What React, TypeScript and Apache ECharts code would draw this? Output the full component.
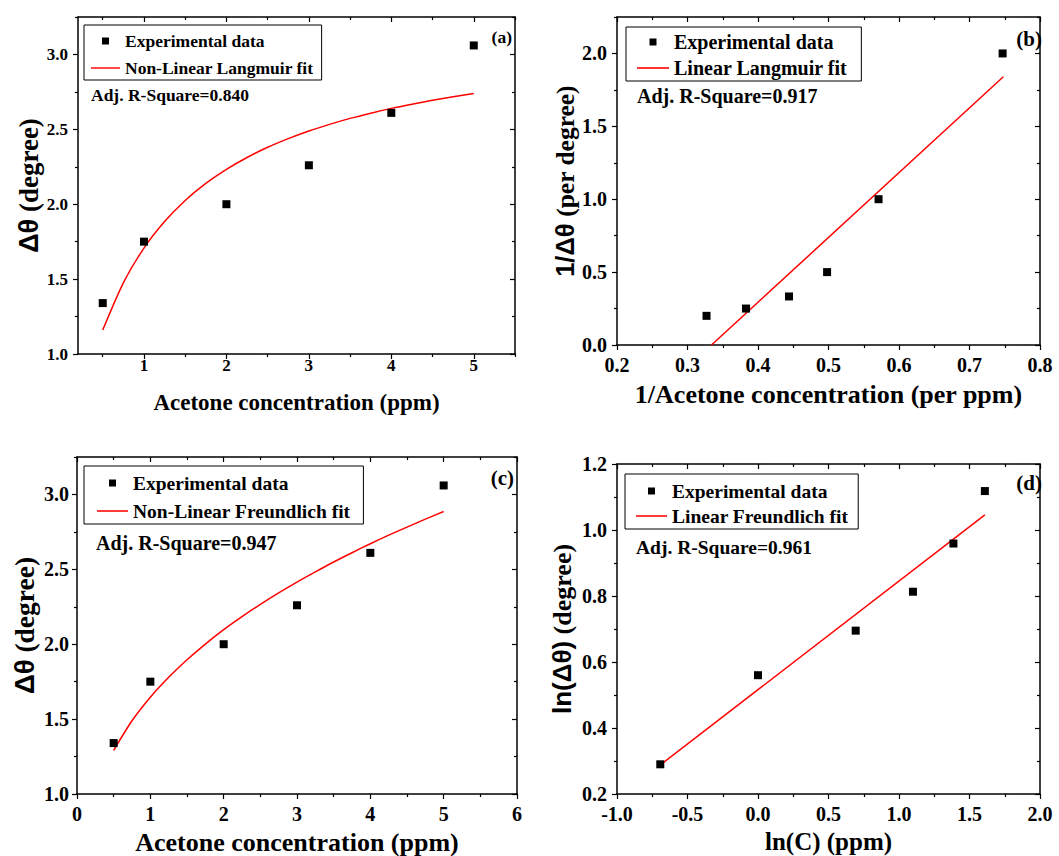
import React, { useEffect, useRef } from 'react';
import * as echarts from 'echarts';

// ---------- data ----------
const concentration = [0.5, 1, 2, 3, 4, 5];
const deltaTheta = [1.34, 1.75, 2.0, 2.26, 2.61, 3.06];

const fitX = [0.5, 0.75, 1, 1.25, 1.5, 1.75, 2, 2.25, 2.5, 2.75, 3, 3.25, 3.5, 3.75, 4, 4.25, 4.5, 4.75, 5];
const langmuirFitY = [1.16, 1.475, 1.707, 1.884, 2.025, 2.139, 2.233, 2.312, 2.38, 2.438, 2.489, 2.533, 2.573, 2.608, 2.64, 2.668, 2.694, 2.718, 2.74];
const freundlichFitY = [1.292, 1.489, 1.646, 1.779, 1.896, 2.001, 2.097, 2.184, 2.266, 2.343, 2.415, 2.483, 2.549, 2.611, 2.671, 2.728, 2.782, 2.835, 2.886];

const invX = [0.327, 0.383, 0.444, 0.498, 0.571, 0.747];
const invY = [0.2, 0.25, 0.333, 0.5, 1.0, 2.0];
const linLangmuirX = [0.334, 0.748];
const linLangmuirY = [0.0, 1.84];

const lnC = [-0.693, 0.0, 0.693, 1.099, 1.386, 1.609];
const lnTheta = [0.29, 0.56, 0.695, 0.813, 0.959, 1.118];
const linFreundlichX = [-0.693, 1.609];
const linFreundlichY = [0.288, 1.046];

// tick values
const concMajor = [1, 2, 3, 4, 5];
const concMinorA = [0.5, 1.5, 2.5, 3.5, 4.5, 5.5];
const concMajorC = [0, 1, 2, 3, 4, 5, 6];
const concMinorC = [0.5, 1.5, 2.5, 3.5, 4.5, 5.5];
const thetaMajor = [1.0, 1.5, 2.0, 2.5, 3.0];
const thetaMinor = [1.25, 1.75, 2.25, 2.75, 3.25];
const invXMajor = [0.2, 0.3, 0.4, 0.5, 0.6, 0.7, 0.8];
const invXMinor = [0.25, 0.35, 0.45, 0.55, 0.65, 0.75];
const invYMajor = [0.0, 0.5, 1.0, 1.5, 2.0];
const invYMinor = [0.25, 0.75, 1.25, 1.75, 2.25];
const lnCMajor = [-1.0, -0.5, 0.0, 0.5, 1.0, 1.5, 2.0];
const lnCMinor = [-0.75, -0.25, 0.25, 0.75, 1.25, 1.75];
const lnThetaMajor = [0.2, 0.4, 0.6, 0.8, 1.0, 1.2];
const lnThetaMinor = [0.3, 0.5, 0.7, 0.9, 1.1];

const legendPoints = 'Experimental data';
const fitNames = ['Non-Linear Langmuir fit', 'Linear Langmuir fit', 'Non-Linear Freundlich fit', 'Linear Freundlich fit'];
const rSquares = ['Adj. R-Square=0.840', 'Adj. R-Square=0.917', 'Adj. R-Square=0.947', 'Adj. R-Square=0.961'];
const panelTags = ['(a)', '(b)', '(c)', '(d)'];

const SERIF = "'Liberation Serif', 'Times New Roman', serif";
const SANS = "'Liberation Sans', Arial, sans-serif";

const SQUARE_ICON = 'path://M0,0H10V10H0Z';
const LINE_ICON = 'path://M0,0H40V2H0Z';

const fmt1 = (v: number) => v.toFixed(1);
const fmt0 = (v: number) => String(Math.round(v));

function nameStyle(size: number) {
  return {
    fontFamily: SERIF,
    fontWeight: 'bold',
    fontSize: size,
    color: '#000',
    rich: {
      s: { fontFamily: SANS, fontWeight: 'bold', fontSize: size, color: '#000' },
      t: { fontFamily: SERIF, fontWeight: 'bold', fontSize: size, color: '#000' },
    },
  };
}

function makeAxes(dim: 'x' | 'y', grid: number, p: any) {
  const pos = dim === 'x' ? ['bottom', 'top'] : ['left', 'right'];
  const base = { type: 'value', gridIndex: grid, min: p.min, max: p.max, splitLine: { show: false } };
  const line = { color: '#000', width: 1.5 };
  const tickLine = { color: '#000', width: 1.2 };
  return [
    {
      ...base,
      position: pos[0],
      axisLine: { show: true, onZero: false, lineStyle: line },
      axisTick: { show: true, customValues: p.major, length: 5, inside: false, lineStyle: tickLine },
      axisLabel: {
        show: true,
        customValues: p.major,
        formatter: p.fmt,
        margin: p.margin,
        color: '#000',
        fontFamily: SERIF,
        fontWeight: 'bold',
        fontSize: p.fontSize,
      },
      name: p.name,
      nameLocation: 'middle',
      nameGap: p.nameGap,
      nameRotate: dim === 'y' ? 90 : 0,
      nameTextStyle: nameStyle(p.nameSize),
    },
    {
      ...base,
      position: pos[0],
      axisLine: { show: false, onZero: false },
      axisTick: { show: true, customValues: p.minor, length: 3, inside: false, lineStyle: tickLine },
      axisLabel: { show: false },
    },
    {
      ...base,
      position: pos[1],
      axisLine: { show: true, onZero: false, lineStyle: line },
      axisTick: { show: true, customValues: p.major, length: 5, inside: true, lineStyle: tickLine },
      axisLabel: { show: false },
    },
    {
      ...base,
      position: pos[1],
      axisLine: { show: false, onZero: false },
      axisTick: { show: true, customValues: p.minor, length: 3, inside: true, lineStyle: tickLine },
      axisLabel: { show: false },
    },
  ];
}

const panels = [
  {
    grid: { left: 78, top: 17, width: 437, height: 337 },
    x: { min: 0.2, max: 5.5, major: concMajor, minor: concMinorA, fmt: fmt0, margin: 3, fontSize: 17,
      name: '{t|Acetone concentration (ppm)}', nameGap: 37, nameSize: 23 },
    y: { min: 1.0, max: 3.25, major: thetaMajor, minor: thetaMinor, fmt: fmt1, margin: 10, fontSize: 17,
      name: '{s|Δθ}{t| (degree)}', nameGap: 34, nameSize: 27 },
    pts: concentration.map((c, i) => [c, deltaTheta[i]]),
    fit: fitX.map((c, i) => [c, langmuirFitY[i]]),
    smooth: true,
    legend: { left: 84, top: 25, itemWidth: 29, itemGap: 9, padding: [7, 8, 3, 7], font: 17.5 },
    r2: { x: 91, y: 95, font: 17.5 },
    tag: { x: 512, y: 37, font: 17.5 },
  },
  {
    grid: { left: 617, top: 17, width: 423, height: 328 },
    x: { min: 0.2, max: 0.8, major: invXMajor, minor: invXMinor, fmt: fmt1, margin: 10, fontSize: 20,
      name: '{t|1/Acetone concentration (per ppm)}', nameGap: 36, nameSize: 26 },
    y: { min: 0, max: 2.25, major: invYMajor, minor: invYMinor, fmt: fmt1, margin: 10, fontSize: 20,
      name: '{s|1/Δθ}{t| (per degree)}', nameGap: 39, nameSize: 25.5 },
    pts: invX.map((c, i) => [c, invY[i]]),
    fit: linLangmuirX.map((c, i) => [c, linLangmuirY[i]]),
    smooth: false,
    legend: { left: 626, top: 27, itemWidth: 32, itemGap: 6, padding: [5, 14, 3, 11], font: 20 },
    r2: { x: 637, y: 96, font: 20 },
    tag: { x: 1042, y: 39, font: 21 },
  },
  {
    grid: { left: 77, top: 457, width: 440, height: 338 },
    x: { min: 0, max: 6, major: concMajorC, minor: concMinorC, fmt: fmt0, margin: 10, fontSize: 20,
      name: '{t|Acetone concentration (ppm)}', nameGap: 35, nameSize: 26 },
    y: { min: 1.0, max: 3.25, major: thetaMajor, minor: thetaMinor, fmt: fmt1, margin: 8, fontSize: 20,
      name: '{s|Δθ}{t| (degree)}', nameGap: 39, nameSize: 27.5 },
    pts: concentration.map((c, i) => [c, deltaTheta[i]]),
    fit: fitX.map((c, i) => [c, freundlichFitY[i]]),
    smooth: true,
    legend: { left: 84, top: 466, itemWidth: 31, itemGap: 8, padding: [7, 13, 3, 13], font: 19.5 },
    r2: { x: 96, y: 543, font: 20 },
    tag: { x: 514, y: 478, font: 21 },
  },
  {
    grid: { left: 617, top: 464, width: 423, height: 330 },
    x: { min: -1.0, max: 2.0, major: lnCMajor, minor: lnCMinor, fmt: fmt1, margin: 10, fontSize: 20,
      name: '{t|ln(C) (ppm)}', nameGap: 35, nameSize: 25 },
    y: { min: 0.2, max: 1.2, major: lnThetaMajor, minor: lnThetaMinor, fmt: fmt1, margin: 10, fontSize: 20,
      name: '{s|ln(Δθ)}{t| (degree)}', nameGap: 42, nameSize: 26 },
    pts: lnC.map((c, i) => [c, lnTheta[i]]),
    fit: linFreundlichX.map((c, i) => [c, linFreundlichY[i]]),
    smooth: false,
    legend: { left: 625, top: 474, itemWidth: 31, itemGap: 5, padding: [7, 10, 3, 11], font: 19.5 },
    r2: { x: 636, y: 547, font: 19.5 },
    tag: { x: 1042, y: 483, font: 21 },
  },
];

function buildOption() {
  const grid: any[] = [];
  const xAxis: any[] = [];
  const yAxis: any[] = [];
  const series: any[] = [];
  const legend: any[] = [];
  const graphic: any[] = [];

  panels.forEach((p, i) => {
    grid.push({ ...p.grid, containLabel: false });
    xAxis.push(...makeAxes('x', i, p.x));
    yAxis.push(...makeAxes('y', i, p.y));
    series.push({
      type: 'scatter',
      name: legendPoints,
      xAxisIndex: i * 4,
      yAxisIndex: i * 4,
      symbol: 'rect',
      symbolSize: 8,
      itemStyle: { color: '#000', opacity: 1 },
      data: p.pts,
      z: 3,
    });
    series.push({
      type: 'line',
      name: fitNames[i],
      xAxisIndex: i * 4,
      yAxisIndex: i * 4,
      symbol: 'none',
      showSymbol: false,
      smooth: p.smooth ? 0.25 : false,
      clip: true,
      lineStyle: { color: '#ff0000', width: 1.5 },
      itemStyle: { color: '#ff0000' },
      data: p.fit,
      z: 2,
    });
    legend.push({
      show: true,
      orient: 'vertical',
      left: p.legend.left,
      top: p.legend.top,
      itemWidth: p.legend.itemWidth,
      itemHeight: 7,
      itemGap: p.legend.itemGap,
      padding: p.legend.padding,
      borderColor: '#000',
      borderWidth: 1,
      borderRadius: 0,
      selectedMode: false,
      symbolKeepAspect: true,
      data: [
        { name: legendPoints, icon: SQUARE_ICON, itemStyle: { color: '#000' } },
        { name: fitNames[i], icon: LINE_ICON, itemStyle: { color: '#ff0000' } },
      ],
      textStyle: { fontFamily: SERIF, fontWeight: 'bold', fontSize: p.legend.font, color: '#000' },
    });
    graphic.push({
      type: 'text',
      left: p.r2.x,
      top: p.r2.y - p.r2.font / 2,
      style: { text: rSquares[i], fontFamily: SERIF, fontWeight: 'bold', fontSize: p.r2.font, fill: '#000' },
    });
    graphic.push({
      type: 'text',
      right: 1059 - p.tag.x,
      top: p.tag.y - p.tag.font / 2,
      style: { text: panelTags[i], fontFamily: SERIF, fontWeight: 'bold', fontSize: p.tag.font, fill: '#000' },
    });
  });

  return {
    animation: false,
    backgroundColor: '#fff',
    textStyle: { fontFamily: SERIF },
    grid,
    xAxis,
    yAxis,
    series,
    legend,
    graphic,
  };
}

export default function App() {
  const ref = useRef<HTMLDivElement>(null);
  useEffect(() => {
    if (!ref.current) return;
    const chart = echarts.init(ref.current, undefined, { renderer: 'svg' });
    chart.setOption(buildOption() as any);
    return () => chart.dispose();
  }, []);
  return (
    <div
      ref={ref}
      style={{ position: 'absolute', left: 0, top: 0, width: 1059, height: 856, background: '#fff' }}
    />
  );
}
